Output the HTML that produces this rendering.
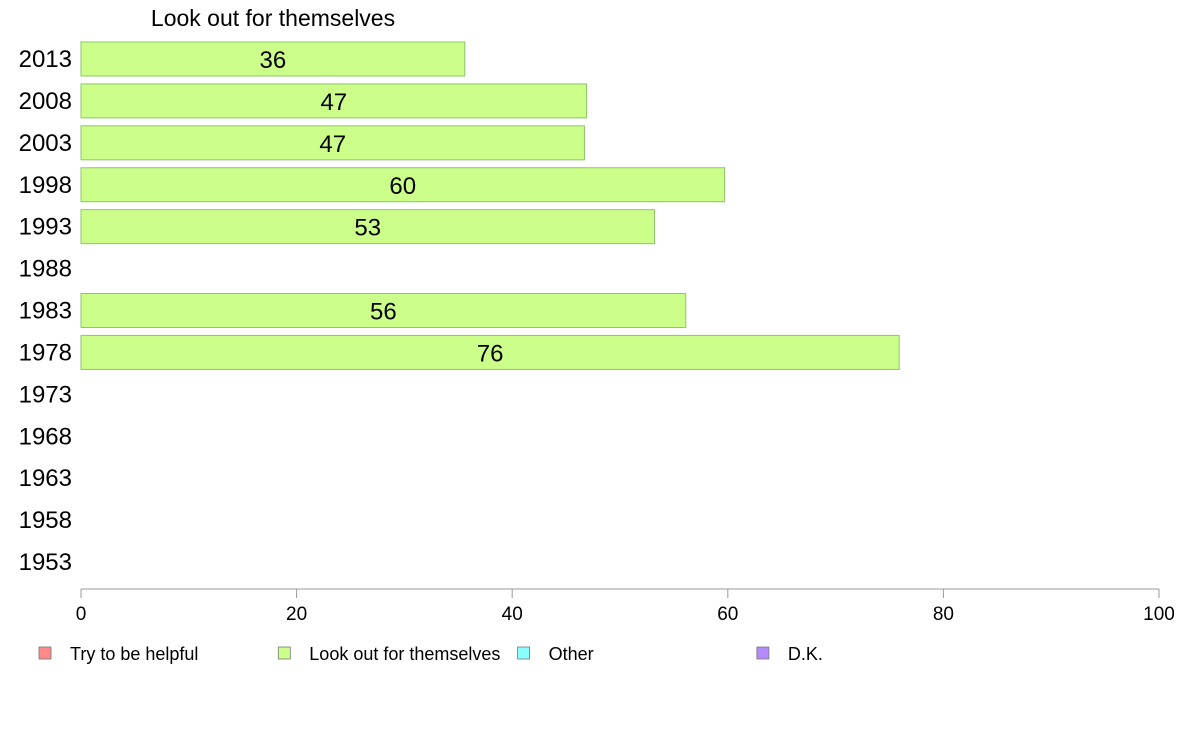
<!DOCTYPE html>
<html><head><meta charset="utf-8"><style>
body{margin:0;background:#fff;}
svg{display:block;font-family:"Liberation Sans",Arial,sans-serif;}
</style></head><body>
<svg id="chart" width="1188" height="736">
<text x="273" y="26" font-size="23" text-anchor="middle">Look out for themselves</text>
<g id="bars"></g>
<g id="yaxis"></g>
<g id="xaxis"></g>
<g id="legend"></g>
</svg>
<script>
const categories=["2013","2008","2003","1998","1993","1988","1983","1978","1973","1968","1963","1958","1953"];
const values=[35.6,46.9,46.7,59.7,53.2,null,56.1,75.9,null,null,null,null,null];
const labels=["36","47","47","60","53","","56","76","","","","",""];
const xTicks=[0,20,40,60,80,100];
const legendItems=["Try to be helpful","Look out for themselves","Other","D.K."];
const legendColors=["#ff8a8a","#ccff8a","#8affff","#b58aff"];

const NS="http://www.w3.org/2000/svg";
const x0=81,x1=1159,yTop=59,yBot=562;
const xs=v=>x0+(v/100)*(x1-x0);
const step=(yBot-yTop)/(categories.length-1);
const yc=i=>yTop+i*step;
function mk(tag,attrs,parent){const e=document.createElementNS(NS,tag);for(const k in attrs)e.setAttribute(k,attrs[k]);parent.appendChild(e);return e;}
const gb=document.getElementById('bars'),gy=document.getElementById('yaxis'),gx=document.getElementById('xaxis'),gl=document.getElementById('legend');
categories.forEach((c,i)=>{
  const t=mk('text',{x:72,y:yc(i)+8,'font-size':24,'text-anchor':'end'},gy);
  t.textContent=c;
  
  
  if(values[i]!=null){
    const r=mk('rect',{x:x0,y:yc(i)-17,width:xs(values[i])-x0,height:34,fill:'#ccff8a',stroke:'#8fc46a','stroke-width':1},gb);
    
    
    const l=mk('text',{x:(x0+xs(values[i]))/2,y:yc(i)+9,'font-size':24,'text-anchor':'middle'},gb);
    l.textContent=labels[i];
    
    
  }
});
const ax=mk('line',{x1:x0,x2:x1,y1:589,y2:589,stroke:'#999','stroke-width':1},gx);


xTicks.forEach(v=>{
  mk('line',{x1:xs(v),x2:xs(v),y1:589,y2:598,stroke:'#999'},gx);
  const t=mk('text',{x:xs(v),y:620,'font-size':19,'text-anchor':'middle'},gx);
  t.textContent=v;
  
  
});
legendItems.forEach((s,i)=>{
  const lx=39+i*239.3;
  const g=mk('g',{},gl);
  
  
  mk('rect',{x:lx,y:647,width:12,height:12,fill:legendColors[i],stroke:'#777','stroke-width':0.8},g);
  const t=mk('text',{x:lx+31,y:660,'font-size':18},g);
  t.textContent=s;
});
</script>
</body></html>
